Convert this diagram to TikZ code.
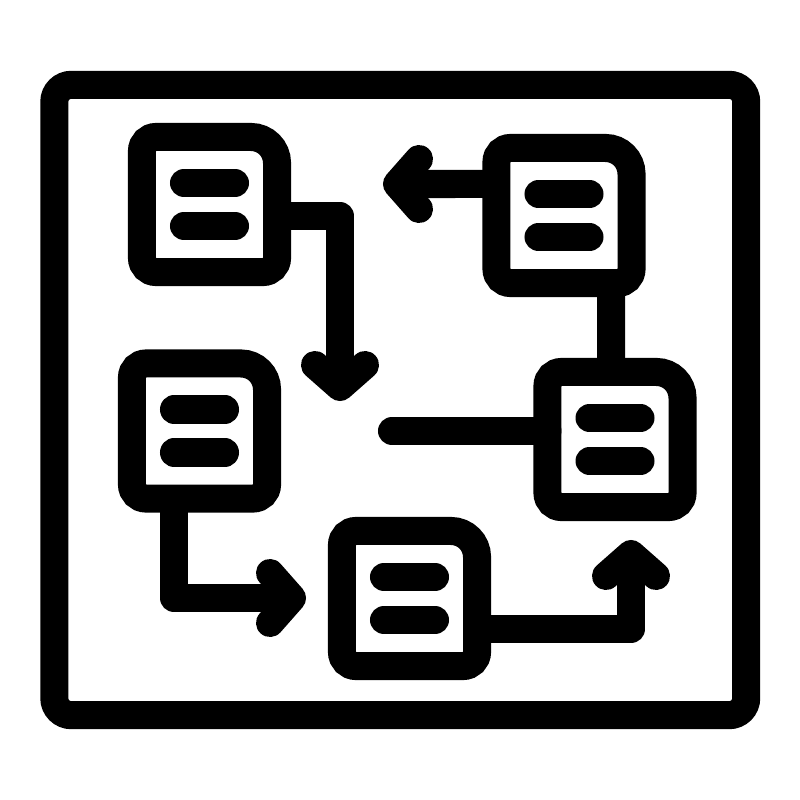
\documentclass[tikz,border=0pt]{standalone}
\begin{document}
\begin{tikzpicture}[x=0.01cm,y=-0.01cm,
  icon/.style={line width=0.28cm},
  boxnode/.style={minimum size=1.35cm,inner sep=0pt,outer sep=0pt},
  framebox/.style={icon,draw=black,minimum width=6.915cm,minimum height=6.3cm,inner sep=0pt,outer sep=0pt,rounded corners=0.17cm},
  bar/.style={icon,line cap=round},
  conn/.style={icon,line join=round,line cap=butt},
  chev/.style={icon,line join=round,line cap=round}]
\useasboundingbox (0,0) rectangle (800,800);
\fill[white] (0,0) rectangle (800,800);
\node[framebox] (frame) at (400.25,400) {};
\coordinate (t1) at (340,387);
\coordinate (t2) at (397,184);
\coordinate (t5) at (292,598);
\coordinate (t6) at (631,554);
\coordinate (e4) at (392,431);
\node[boxnode] (b1) at (209.5,204.5) {};
\node[boxnode] (b2) at (564,215.5) {};
\node[boxnode] (b3) at (615,439.5) {};
\node[boxnode] (b4) at (199.5,431) {};
\node[boxnode] (b5) at (409.5,598.5) {};
% box outlines: square inside, rounder outer top-right corner
\foreach \b in {b1,b2,b3,b4,b5}{
  \draw[icon] (\b.west) [rounded corners=0.14cm] -- (\b.north west)
    [rounded corners=0.26cm] -- (\b.north east)
    [rounded corners=0.14cm] -- (\b.south east) -- (\b.south west) -- cycle;
  \draw[bar] ([shift={(-25.5,-21.5)}]\b.center) -- ++(51,0);
  \draw[bar] ([shift={(-25.5,21.5)}]\b.center) -- ++(51,0);
}
% C1
\draw[conn] ([yshift=-0.115cm]b1.east) -| (t1);
\draw[chev] ([shift={(-25,-22)}]t1) -- (t1) -- ([shift={(25,-22)}]t1);
% C2
\draw[conn] ([yshift=0.315cm]b2.west) -- (t2);
\draw[chev] ([shift={(22,-25)}]t2) -- (t2) -- ([shift={(22,25)}]t2);
% C3
\draw[conn] ([xshift=0.47cm]b2.south) -- ([xshift=-0.04cm]b3.north);
% C4
\draw[icon,line cap=round] (e4) -- (e4 -| b3.west);
% C5
\draw[conn] ([xshift=-0.255cm]b4.south) |- (t5);
\draw[chev] ([shift={(-22,-25)}]t5) -- (t5) -- ([shift={(-22,25)}]t5);
% C6
\draw[conn] ([yshift=-0.305cm]b5.east) -| (t6);
\draw[chev] ([shift={(-25,22)}]t6) -- (t6) -- ([shift={(25,22)}]t6);
\end{tikzpicture}
\end{document}
